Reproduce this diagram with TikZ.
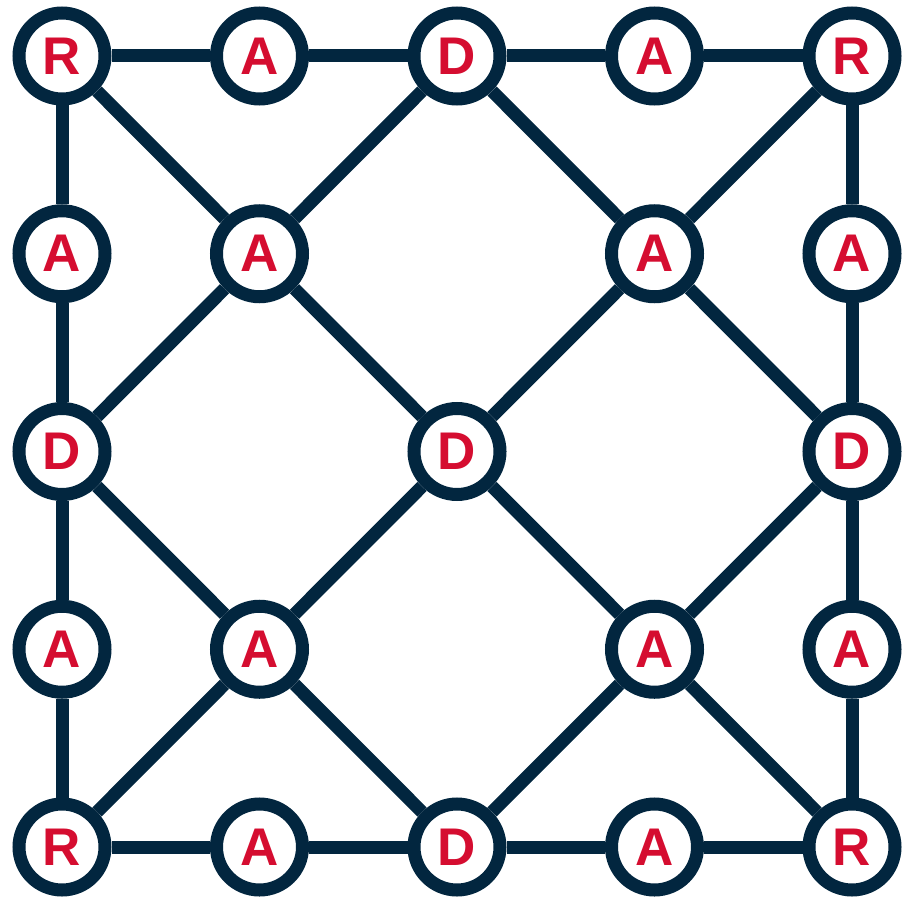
\documentclass[tikz,border=0pt]{standalone}
\usepackage{fontspec}
\setmainfont{Liberation Sans}
\usepackage{xcolor}
\usetikzlibrary{positioning}

\definecolor{navy}{HTML}{02263F}
\definecolor{letterred}{HTML}{D50D30}

\begin{document}
\begin{tikzpicture}[
    x=1pt, y=-1pt,
    site/.style={circle, draw=navy, line width=13pt, fill=white,
                 minimum size=86pt, inner sep=0pt, text=letterred,
                 font=\fontsize{53}{53}\selectfont\bfseries},
    bond/.style={draw=navy, line width=13pt},
]
\useasboundingbox (0,0) rectangle (911,899);

% Top row
\node[site] (rtl) at (62,56) {R};
\node[site] (at1) at (259.5,56) {A};
\node[site] (dt) at (457,56) {D};
\node[site] (at2) at (654.5,56) {A};
\node[site] (rtr) at (852,56) {R};

% Second row
\node[site] (al1) at (62,253.75) {A};
\node[site] (ai1) at (259.5,253.75) {A};
\node[site] (ai2) at (654.5,253.75) {A};
\node[site] (ar1) at (852,253.75) {A};

% Middle row
\node[site] (dl) at (62,451.5) {D};
\node[site] (dc) at (457,451.5) {D};
\node[site] (dr) at (852,451.5) {D};

% Fourth row
\node[site] (al2) at (62,649.25) {A};
\node[site] (ai3) at (259.5,649.25) {A};
\node[site] (ai4) at (654.5,649.25) {A};
\node[site] (ar2) at (852,649.25) {A};

% Bottom row
\node[site] (rbl) at (62,847) {R};
\node[site] (ab1) at (259.5,847) {A};
\node[site] (db) at (457,847) {D};
\node[site] (ab2) at (654.5,847) {A};
\node[site] (rbr) at (852,847) {R};

% Outer frame
\draw[bond] (rtl) -- (at1);
\draw[bond] (at1) -- (dt);
\draw[bond] (dt) -- (at2);
\draw[bond] (at2) -- (rtr);
\draw[bond] (rbl) -- (ab1);
\draw[bond] (ab1) -- (db);
\draw[bond] (db) -- (ab2);
\draw[bond] (ab2) -- (rbr);
\draw[bond] (rtl) -- (al1);
\draw[bond] (al1) -- (dl);
\draw[bond] (dl) -- (al2);
\draw[bond] (al2) -- (rbl);
\draw[bond] (rtr) -- (ar1);
\draw[bond] (ar1) -- (dr);
\draw[bond] (dr) -- (ar2);
\draw[bond] (ar2) -- (rbr);

% Diagonals through the centre
\draw[bond] (rtl) -- (ai1);
\draw[bond] (ai1) -- (dc);
\draw[bond] (dc) -- (ai4);
\draw[bond] (ai4) -- (rbr);
\draw[bond] (rtr) -- (ai2);
\draw[bond] (ai2) -- (dc);
\draw[bond] (dc) -- (ai3);
\draw[bond] (ai3) -- (rbl);

% Diamond
\draw[bond] (dt) -- (ai1);
\draw[bond] (ai1) -- (dl);
\draw[bond] (dl) -- (ai3);
\draw[bond] (ai3) -- (db);
\draw[bond] (dt) -- (ai2);
\draw[bond] (ai2) -- (dr);
\draw[bond] (dr) -- (ai4);
\draw[bond] (ai4) -- (db);

\end{tikzpicture}
\end{document}
